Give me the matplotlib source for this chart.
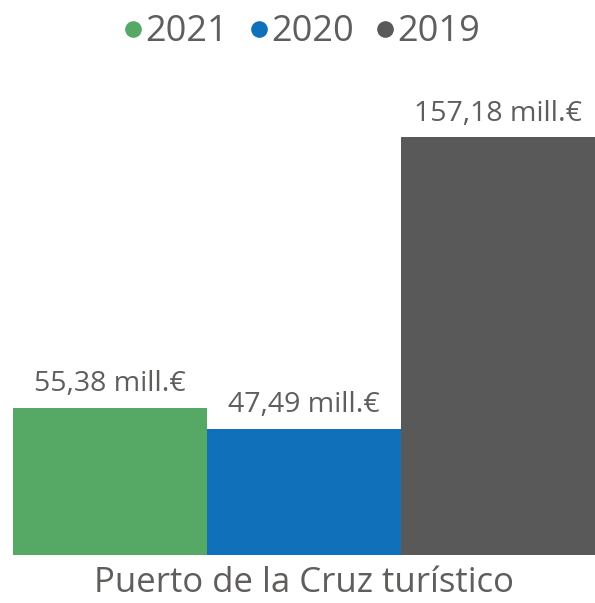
import matplotlib
matplotlib.use("Agg")
import matplotlib.pyplot as plt
from matplotlib.lines import Line2D

years = ["2021", "2020", "2019"]
values = [55.38, 47.49, 157.18]
labels = ["55,38 mill.€", "47,49 mill.€", "157,18 mill.€"]
category = "Puerto de la Cruz turístico"
colors = ["#55A964", "#1170BA", "#595959"]
text_color = "#605E5C"

plt.rcParams["font.family"] = ["Open Sans", "DejaVu Sans"]

fig = plt.figure(figsize=(5.95, 6.03), dpi=100)
ax = fig.add_axes([13 / 595, 48 / 603, 1 - 13 / 595, 418 / 603])

pos = [-1, 0, 1]
for x, v, lab, c in zip(pos, values, labels, colors):
    ax.bar(x, v, width=1.0, color=c, edgecolor="none")
    ax.text(x, v + 3.5, lab, ha="center", va="bottom", fontsize=20.5,
            color=text_color, clip_on=False)

ax.set_xlim(-1.5, 1.5)
ax.set_ylim(0, max(values))
ax.set_xticks([0])
ax.set_xticklabels([category], fontsize=25, color=text_color)
ax.tick_params(axis="x", length=0, pad=8)
ax.set_yticks([])
for s in ax.spines.values():
    s.set_visible(False)

handles = [Line2D([], [], marker="o", linestyle="none", markersize=12,
                  markerfacecolor=c, markeredgecolor="none") for c in colors]
leg = fig.legend(handles, years, loc="upper center", bbox_to_anchor=(0.5, 1.03),
                 ncol=3, frameon=False, fontsize=26, handletextpad=-0.15,
                 columnspacing=0.35, handlelength=1.0)
for t in leg.get_texts():
    t.set_color(text_color)

fig.savefig("out.png", dpi=100)
